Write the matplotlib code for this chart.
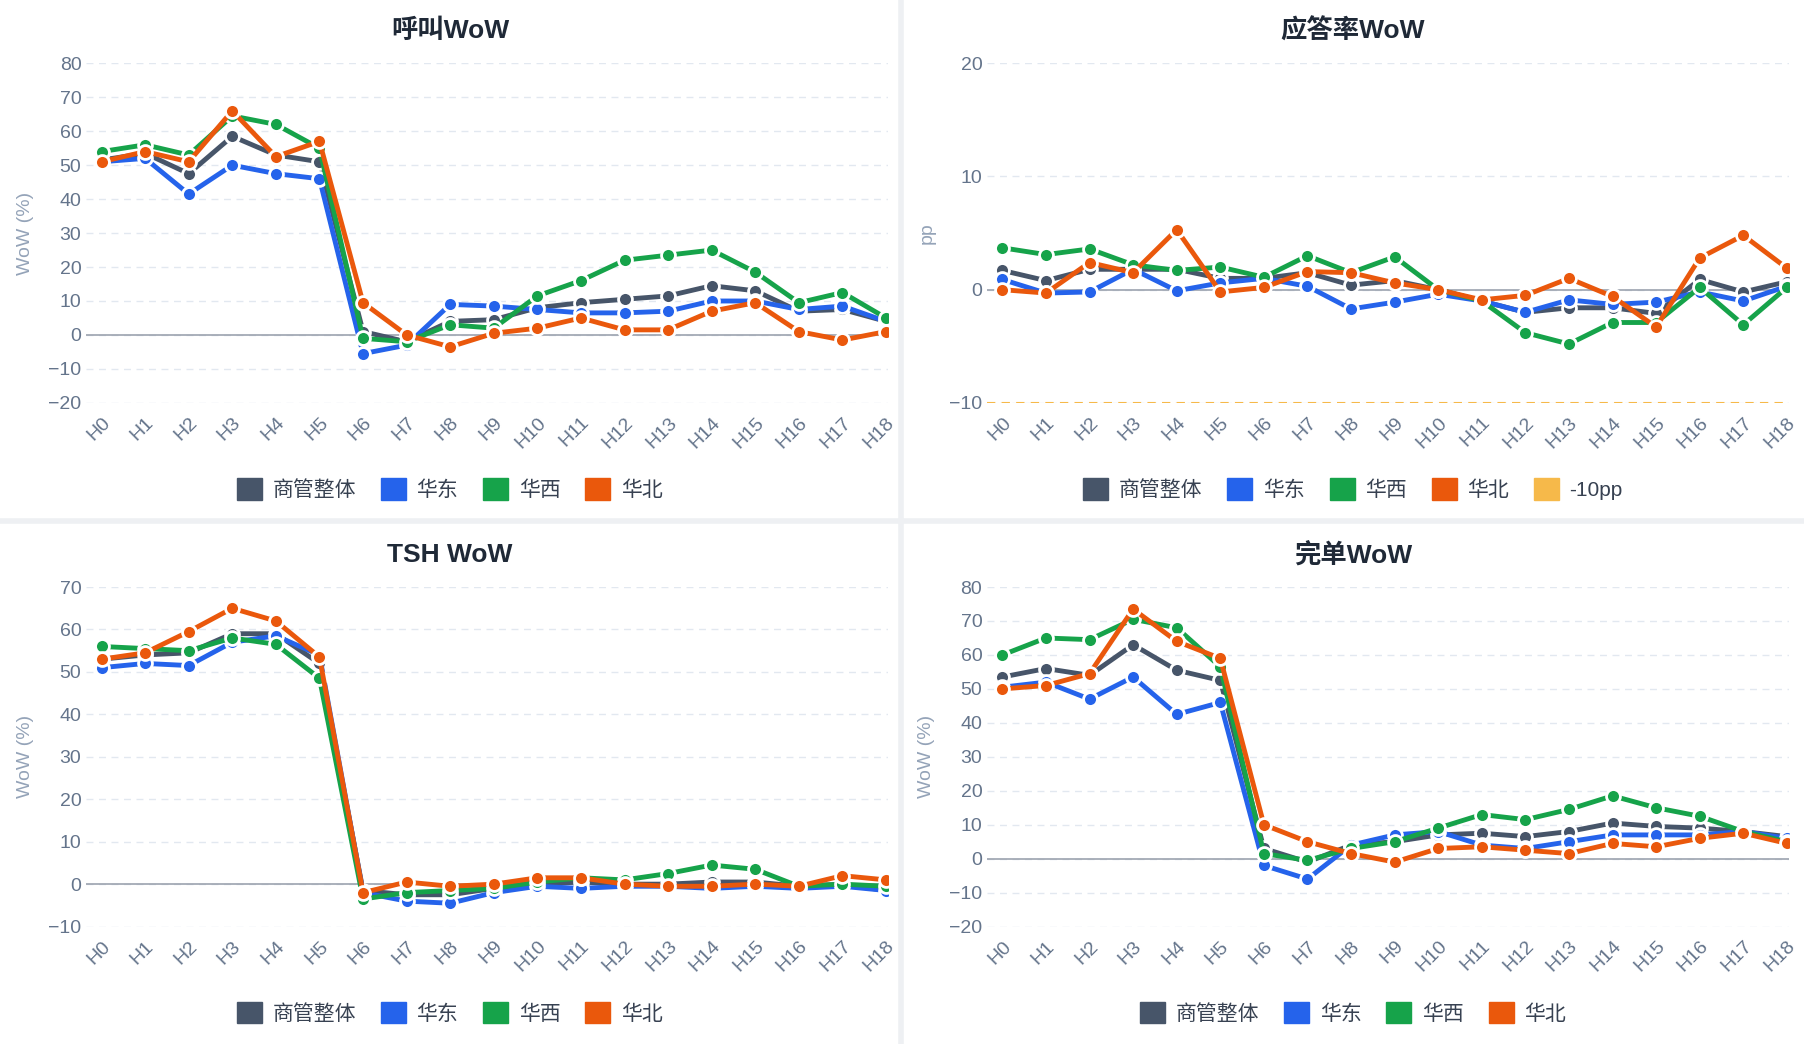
import matplotlib
matplotlib.use("Agg")
import matplotlib.pyplot as plt
from matplotlib.patches import Patch
from matplotlib.lines import Line2D

plt.rcParams['font.family'] = ['Liberation Sans', 'Noto Sans CJK SC', 'DejaVu Sans']

hours = [f"H{i}" for i in range(19)]
series_names = ["商管整体", "华东", "华西", "华北"]
colors = ["#475569", "#2563eb", "#16a34a", "#ea580c"]

call_total = [51.5, 53.5, 47.5, 58.5, 53, 51, 1, -2, 4, 4.5, 8, 9.5, 10.5, 11.5, 14.5, 13, 7, 7.5, 4]
call_east = [51, 52, 41.5, 50, 47.5, 46, -5.5, -3, 9, 8.5, 7.5, 6.5, 6.5, 7, 10, 10, 7.5, 8.5, 4]
call_west = [54, 56, 53, 64.5, 62, 55, -1, -2, 3, 2, 11.5, 16, 22, 23.5, 25, 18.5, 9.5, 12.5, 5]
call_north = [51, 54, 51, 66, 52.5, 57, 9.5, 0, -3.5, 0.5, 2, 5, 1.5, 1.5, 7, 9.5, 1, -1.5, 1]

ans_total = [1.7, 0.8, 1.8, 1.8, 1.8, 1.0, 1.0, 1.5, 0.4, 0.8, 0, -1.0, -2.0, -1.6, -1.6, -2.1, 0.9, -0.2, 0.7]
ans_east = [0.9, -0.3, -0.2, 1.8, -0.1, 0.6, 1.0, 0.3, -1.7, -1.1, -0.4, -1.0, -2.0, -0.9, -1.3, -1.1, -0.2, -1.0, 0.3]
ans_west = [3.7, 3.1, 3.6, 2.2, 1.7, 2.0, 1.1, 3.0, 1.5, 2.9, 0, -1.0, -3.8, -4.8, -2.9, -2.9, 0.2, -3.1, 0.2]
ans_north = [0, -0.3, 2.4, 1.5, 5.3, -0.2, 0.2, 1.6, 1.5, 0.6, 0, -0.9, -0.5, 1.0, -0.6, -3.3, 2.8, 4.8, 1.9]
ans_ref = -10

tsh_total = [53, 54, 54.5, 59, 59, 52, -1.5, -2.5, -2.5, -1, 0, 0.5, 0, 0, 0.5, 0.5, -0.5, 0, -1.5]
tsh_east = [51, 52, 51.5, 57, 58.5, 54, -2, -4, -4.5, -2, -0.5, -1, -0.5, -0.5, -1, -0.5, -1, -0.5, -1.5]
tsh_west = [56, 55.5, 55, 58, 56.5, 48.5, -3.5, -2, -1.5, -1, 0.5, 1.5, 1, 2.5, 4.5, 3.5, -0.5, 0, -0.5]
tsh_north = [53, 54.5, 59.5, 65, 62, 53.5, -2, 0.5, -0.5, 0, 1.5, 1.5, 0, -0.5, -0.5, 0, -0.5, 2, 1]

done_total = [53.5, 56, 54, 63, 55.5, 52.5, 3, -1, 4, 5, 7, 7.5, 6.5, 8, 10.5, 9.5, 9, 8, 6.5]
done_east = [50.5, 52, 47, 53.5, 42.5, 46, -2, -6, 4, 7, 8, 4, 3, 5, 7, 7, 7, 8, 6]
done_west = [60, 65, 64.5, 70.5, 68, 56.5, 1.5, -0.5, 3, 5, 9, 13, 11.5, 14.5, 18.5, 15, 12.5, 8, 5]
done_north = [50, 51, 54.5, 73.5, 64, 59, 10, 5, 1.5, -1, 3, 3.5, 2.5, 1.5, 4.5, 3.5, 6, 7.5, 4.5]

W, H = 1568, 907
fig = plt.figure(figsize=(18.04, 10.44), dpi=100)
fig.patch.set_facecolor("white")
fig.add_artist(Line2D([783/W, 783/W], [0, 1], color="#eef0f3", lw=4))
fig.add_artist(Line2D([0, 1], [1-453/H, 1-453/H], color="#eef0f3", lw=4))

panels = [
    ("呼叫WoW", [call_total, call_east, call_west, call_north], (-20, 80), 10, "WoW (%)", 75, 55, 350, False, 391),
    ("应答率WoW", [ans_total, ans_east, ans_west, ans_north], (-10, 20), 10, "pp", 858, 55, 350, True, 1176),
    ("TSH WoW", [tsh_total, tsh_east, tsh_west, tsh_north], (-10, 70), 10, "WoW (%)", 75, 510, 805, False, 391),
    ("完单WoW", [done_total, done_east, done_west, done_north], (-20, 80), 10, "WoW (%)", 858, 510, 805, False, 1176),
]
for title, data, ylim, step, ylabel, xl, yt, yb, hasref, cxp in panels:
    ax = fig.add_axes([xl/W, 1-yb/H, 697/W, (yb-yt)/H])
    x = list(range(19))
    ax.set_xlim(-0.35, 18.05)
    ax.set_ylim(*ylim)
    ax.set_yticks(range(ylim[0], ylim[1]+1, step))
    ax.set_xticks(x)
    ax.set_xticklabels(hours, rotation=45, ha="right", rotation_mode="anchor", fontsize=14, color="#64748b")
    ax.tick_params(axis="y", labelsize=14, colors="#64748b", length=0)
    ax.tick_params(axis="x", length=0, pad=8)
    for s in ax.spines.values():
        s.set_visible(False)
    ax.grid(axis="y", color="#e2e8f0", linestyle=(0, (5, 4)), lw=1)
    ax.set_axisbelow(True)
    ax.axhline(0, color="#9ca3af", lw=1.2, zorder=1)
    ax.set_ylabel(ylabel, color="#94a3b8", fontsize=14, labelpad=10)
    handles = []
    for vals, c, n in zip(data, colors, series_names):
        ax.plot(x, vals, color=c, lw=3.5, marker="o", ms=10, mfc=c, mec="white", mew=2,
                solid_joinstyle="round", solid_capstyle="round", zorder=3)
        handles.append(Patch(color=c, label=n))
    if hasref:
        ax.axhline(ans_ref, color="#f6b94a", lw=1.5, linestyle=(0, (4, 3)), zorder=2)
        handles.append(Patch(facecolor="#f6b94a", edgecolor="#f6b94a", label="-10pp"))
    cx = cxp/W
    fig.text(cx, 1-(yt-28)/H, title, ha="center", va="center", fontsize=19, fontweight="bold", color="#1f2937")
    fig.legend(handles=handles, loc="center", bbox_to_anchor=(cx, 1-(yb+75)/H), ncol=len(handles),
               frameon=False, fontsize=15, handlelength=1.2, handleheight=1.2, columnspacing=1.2,
               handletextpad=0.5, labelcolor="#374151")

fig.savefig("out.png", dpi=100)
